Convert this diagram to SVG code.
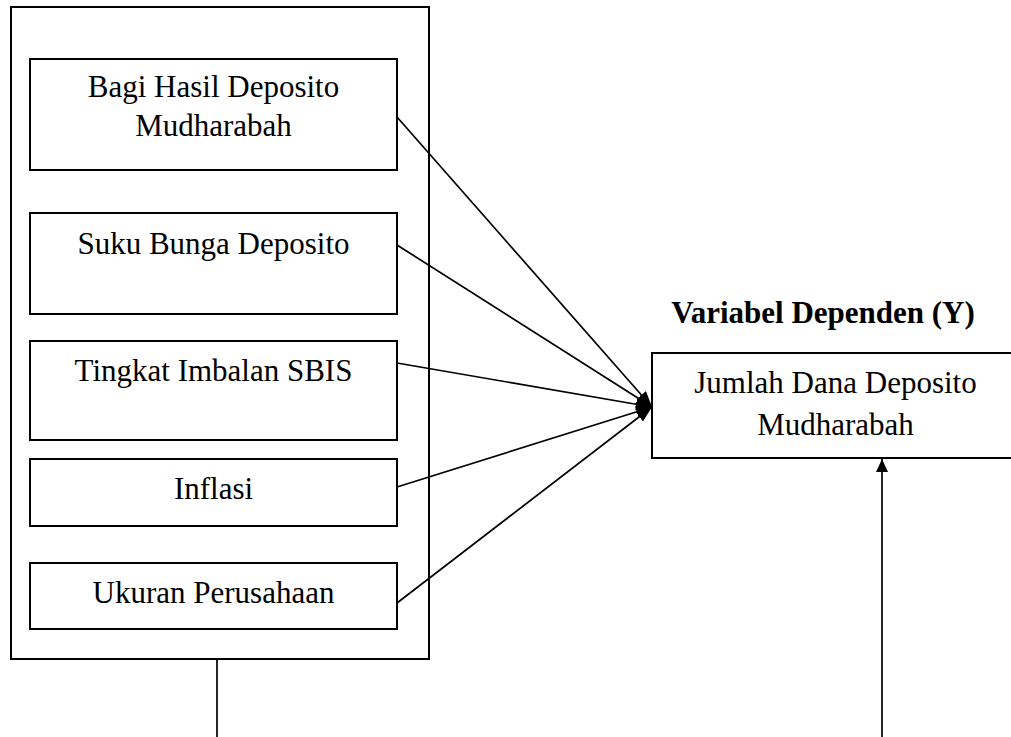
<svg xmlns="http://www.w3.org/2000/svg" width="1011" height="737" viewBox="0 0 1011 737">
<style>
.box{fill:#fff;stroke:#000;stroke-width:2}
.t{font-family:"Liberation Serif","Times New Roman",serif;font-size:31px;fill:#000;text-anchor:middle}
.b{font-weight:bold}
.c{fill:none;stroke:#000;stroke-width:1.7}
</style>
<defs>
<marker id="ah" viewBox="0 0 16 12" refX="16" refY="6" markerWidth="16" markerHeight="12" markerUnits="userSpaceOnUse" orient="auto">
<path d="M0,0 L16,6 L0,12 z" fill="#000"/>
</marker>
<marker id="ah2" viewBox="0 0 13 12" refX="13" refY="6" markerWidth="13" markerHeight="12" markerUnits="userSpaceOnUse" orient="auto">
<path d="M0,0 L13,6 L0,12 z" fill="#000"/>
</marker>
</defs>
<g id="outer"><rect class="box" x="11" y="7" width="418" height="652"/></g>
<g id="n1"><rect class="box" x="30" y="59" width="367" height="111"/>
<text class="t" x="213.5" y="97">Bagi Hasil Deposito</text>
<text class="t" x="213.5" y="136">Mudharabah</text></g>
<g id="n2"><rect class="box" x="30" y="213" width="367" height="101"/>
<text class="t" x="213.5" y="254">Suku Bunga Deposito</text></g>
<g id="n3"><rect class="box" x="30" y="341" width="367" height="99"/>
<text class="t" x="213.5" y="381">Tingkat Imbalan SBIS</text></g>
<g id="n4"><rect class="box" x="30" y="459" width="367" height="67"/>
<text class="t" x="213.5" y="499">Inflasi</text></g>
<g id="n5"><rect class="box" x="30" y="563" width="367" height="66"/>
<text class="t" x="213.5" y="603">Ukuran Perusahaan</text></g>
<g id="label"><text class="t b" x="823" y="323">Variabel Dependen (Y)</text></g>
<g id="target"><rect class="box" x="652" y="353" width="367" height="105"/>
<text class="t" x="835.5" y="393">Jumlah Dana Deposito</text>
<text class="t" x="835.5" y="435">Mudharabah</text></g>
<g id="connectors">
<line class="c" x1="397" y1="117" x2="652" y2="407" marker-end="url(#ah)"/>
<line class="c" x1="397" y1="245" x2="652" y2="407" marker-end="url(#ah)"/>
<line class="c" x1="397" y1="363" x2="652" y2="407" marker-end="url(#ah)"/>
<line class="c" x1="397" y1="487" x2="652" y2="407" marker-end="url(#ah)"/>
<line class="c" x1="397" y1="603" x2="652" y2="407" marker-end="url(#ah)"/>
<line class="c" x1="217" y1="659" x2="217" y2="737"/>
<line class="c" x1="882" y1="737" x2="882" y2="459" marker-end="url(#ah2)"/>
</g>
</svg>
